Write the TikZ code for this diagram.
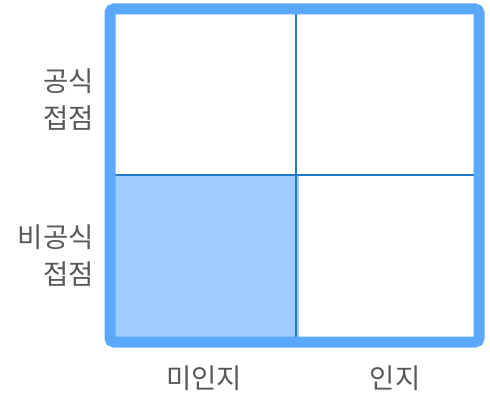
\documentclass[tikz,border=0pt]{standalone}
\usepackage{fontspec}
\setmainfont{Noto Sans CJK KR}
\usetikzlibrary{positioning}
\definecolor{frameblue}{HTML}{5AA9FF}
\definecolor{cellblue}{HTML}{A0CDFF}
\definecolor{lineblue}{HTML}{1F78C8}
\definecolor{labelgray}{HTML}{585858}

\begin{document}
\begin{tikzpicture}[x=1pt, y=-1pt,
	quadframe/.style={draw=frameblue, line width=11pt, rounded corners=4pt},
	divider/.style={draw=lineblue, line width=2pt},
	knowncell/.style={fill=cellblue},
	axislabel/.style={text=labelgray, font=\fontsize{27.5}{37}\selectfont, inner sep=0pt, align=right},
	]
	\useasboundingbox (0,0) rectangle (490,396);
		%Corners
		\coordinate (TL) at (110,9);
		\coordinate (BR) at (479,342);
		\coordinate (Mid) at (295.5,175);

		%Cells
		\fill[knowncell] (TL |- Mid) rectangle (299,342);

		%Lines
		\draw[divider] (Mid |- TL) -- (Mid |- BR);
		\draw[divider] (TL |- Mid) -- (BR |- Mid);
		\draw[quadframe] (TL) rectangle (BR);

		%Nodes
		\node[axislabel, anchor=east] (Formal)    at (94,100)  {공식\\접점};
		\node[axislabel, anchor=east] (Informal)  at (94,256)  {비공식\\접점};
		\node[axislabel]              (Unaware)   at (204,378) {미인지};
		\node[axislabel]              (Aware)     at (395,378) {인지};
	\end{tikzpicture}
\end{document}
